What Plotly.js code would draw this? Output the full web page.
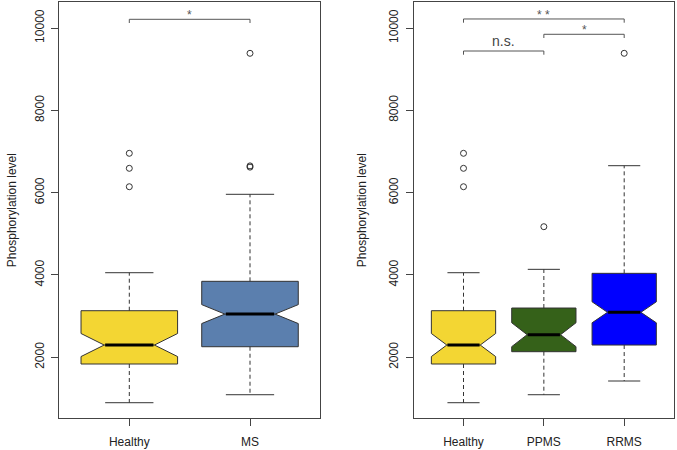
<!DOCTYPE html>
<html>
<head>
<meta charset="utf-8">
<script src="https://cdn.plot.ly/plotly-3.0.1.min.js"></script>
<style>html,body{margin:0;padding:0;background:#fff}#chart{width:677px;height:450px}</style>
</head>
<body>
<div id="chart"></div>
<script>
// ---- data ----
var leftCategories  = ['Healthy', 'MS'];
var rightCategories = ['Healthy', 'PPMS', 'RRMS'];

var groupNames   = ['Healthy', 'MS', 'PPMS', 'RRMS'];
var lowerWhisker = [897, 1091, 1091, 1424];
var q1Values     = [1837, 2257, 2136, 2298];
var medianValues = [2298, 3050, 2549, 3093];
var q3Values     = [3132, 3846, 3197, 4040];
var upperWhisker = [4055, 5960, 4137, 6655];
var notchSpans   = [280, 230, 290, 255];
var outliersHealthy = [6144, 6591, 6956];
var outliersMS      = [6620, 6650, 9385];
var outliersPPMS    = [5173];
var outliersRRMS    = [9385];
var outlierLists = [outliersHealthy, outliersMS, outliersPPMS, outliersRRMS];
var yTickValues = [2000, 4000, 6000, 8000, 10000];
var yTickLabels = ['2000', '4000', '6000', '8000', '10000'];

// significance brackets
var leftBrackets  = [{from: 1, to: 2, y: 10211, label: '*'}];
var rightBrackets = [
  {from: 1, to: 3, y: 10219, label: '* *'},
  {from: 2, to: 3, y: 9847,  label: '*'},
  {from: 1, to: 2, y: 9441,  label: 'n.s.'}
];

// ---- styles ----
var fills = {Healthy: '#F3D633', MS: '#5B7FAE', PPMS: '#356119', RRMS: '#0000FF'};
var ink = '#333333';
var BOXW = 0.8, CAP = 0.2, MED = 0.2;

var traces = [];
function addPanel(cats, xa, ya) {
  cats.forEach(function (name, k) {
    var g = groupNames.indexOf(name);
    var pos = k + 1;
    traces.push({type: 'scatter', mode: 'lines', xaxis: xa, yaxis: ya, hoverinfo: 'skip', showlegend: false,
      x: [pos, pos, null, pos, pos],
      y: [q3Values[g], upperWhisker[g], null, q1Values[g], lowerWhisker[g]],
      line: {color: ink, width: 1, dash: '4px,3px'}});
    traces.push({type: 'scatter', mode: 'lines', xaxis: xa, yaxis: ya, hoverinfo: 'skip', showlegend: false,
      x: [pos - CAP, pos + CAP, null, pos - CAP, pos + CAP],
      y: [upperWhisker[g], upperWhisker[g], null, lowerWhisker[g], lowerWhisker[g]],
      line: {color: ink, width: 1}});
    traces.push({type: 'box', xaxis: xa, yaxis: ya, showlegend: false, name: name,
      x: [pos], q1: [q1Values[g]], median: [medianValues[g]], q3: [q3Values[g]],
      lowerfence: [q1Values[g]], upperfence: [q3Values[g]],
      notched: true, notchspan: [notchSpans[g]], notchwidth: 0.24,
      width: BOXW, whiskerwidth: 0, boxpoints: false,
      fillcolor: fills[name], line: {color: ink, width: 1}});
    traces.push({type: 'scatter', mode: 'lines', xaxis: xa, yaxis: ya, hoverinfo: 'skip', showlegend: false,
      x: [pos - MED, pos + MED], y: [medianValues[g], medianValues[g]],
      line: {color: '#000', width: 3}});
    var ol = outlierLists[g];
    traces.push({type: 'scatter', mode: 'markers', xaxis: xa, yaxis: ya, hoverinfo: 'skip', showlegend: false,
      x: ol.map(function () { return pos; }), y: ol,
      marker: {symbol: 'circle-open', size: 6, color: ink, line: {width: 1, color: ink}}});
  });
}
addPanel(leftCategories, 'x', 'y');
addPanel(rightCategories, 'x2', 'y2');

var shapes = [], annotations = [];
function addBrackets(list, xref, yref) {
  list.forEach(function (b) {
    var drop = 90;
    var ln = {color: '#555', width: 1};
    shapes.push({type: 'line', xref: xref, yref: yref, x0: b.from, x1: b.to, y0: b.y, y1: b.y, line: ln});
    shapes.push({type: 'line', xref: xref, yref: yref, x0: b.from, x1: b.from, y0: b.y, y1: b.y - drop, line: ln});
    shapes.push({type: 'line', xref: xref, yref: yref, x0: b.to, x1: b.to, y0: b.y, y1: b.y - drop, line: ln});
    var ns = b.label === 'n.s.';
    annotations.push({xref: xref, yref: yref, x: (b.from + b.to) / 2, y: b.y, text: b.label, showarrow: false,
      yanchor: 'bottom', yshift: ns ? 0 : -5,
      font: {family: 'Liberation Sans, Arial, sans-serif', size: ns ? 14 : 12, color: ns ? '#444' : '#555'}});
  });
}
addBrackets(leftBrackets, 'x', 'y');
addBrackets(rightBrackets, 'x2', 'y2');

['Phosphorylation level', 'Phosphorylation level'].forEach(function (t, i) {
  annotations.push({xref: 'paper', yref: 'paper', x: i === 0 ? 12 / 677 : 362 / 677, y: 0.533,
    text: t, textangle: -90, showarrow: false, xanchor: 'center', yanchor: 'middle',
    font: {family: 'Liberation Sans, Arial, sans-serif', size: 12, color: '#222'}});
});

var font = {family: 'Liberation Sans, Arial, sans-serif', size: 12, color: '#222'};
function xAxis(dom, n, cats, anchor) {
  return {domain: dom, anchor: anchor, range: n === 2 ? [0.42, 2.58] : [0.38, 3.62],
    tickvals: cats.map(function (c, i) { return i + 1; }), ticktext: cats,
    showline: true, mirror: true, linecolor: '#444', linewidth: 1, ticks: 'outside', ticklen: 7,
    tickcolor: '#444', showgrid: false, zeroline: false, tickfont: font, ticklabelstandoff: 6};
}
function yAxis(anchor) {
  return {domain: [0.0718, 0.9956], anchor: anchor, range: [533, 10632],
    tickvals: yTickValues, ticktext: yTickLabels,
    showline: true, mirror: true, linecolor: '#444', linewidth: 1, ticks: 'outside', ticklen: 7,
    tickcolor: '#444', showgrid: false, zeroline: false, tickangle: -90, tickfont: font, ticklabelstandoff: 3};
}
var layout = {
  width: 677, height: 450, margin: {l: 0, r: 0, t: 0, b: 0},
  paper_bgcolor: '#fff', plot_bgcolor: '#fff', showlegend: false, boxmode: 'overlay',
  xaxis: xAxis([59.3 / 677, 320 / 677], 2, leftCategories, 'y'),
  yaxis: yAxis('x'),
  xaxis2: xAxis([413.7 / 677, 674 / 677], 3, rightCategories, 'y2'),
  yaxis2: yAxis('x2'),
  shapes: shapes, annotations: annotations
};
Plotly.newPlot('chart', traces, layout, {displayModeBar: false, staticPlot: true});
</script>
</body>
</html>
